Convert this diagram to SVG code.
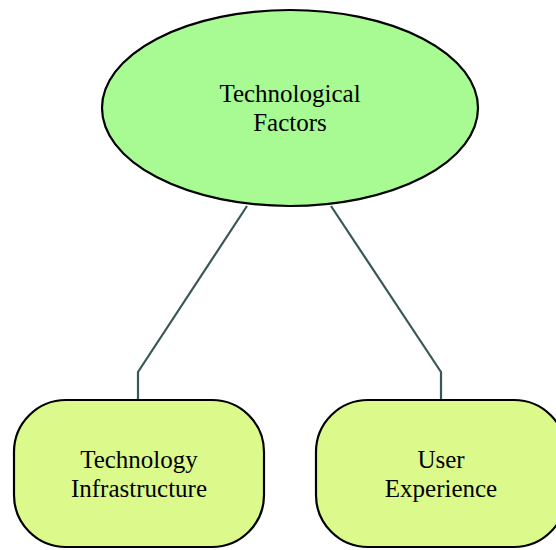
<svg xmlns="http://www.w3.org/2000/svg" width="556" height="550" viewBox="0 0 556 550">
<style>
.lbl{font-family:"Liberation Serif","Times New Roman",serif;font-size:25px;fill:#000;text-anchor:middle}
.edge{fill:none;stroke:#3a5757;stroke-width:2.2}
.leaf{fill:#dcfa8c;stroke:#000;stroke-width:2.2}
</style>
<rect width="556" height="550" fill="#fff"/>
<g id="connectors">
<path class="edge" d="M247,206 L138,372 L138,400"/>
<path class="edge" d="M331,206 L441,372 L441,400"/>
</g>
<g id="n-tech-factors">
<ellipse cx="290" cy="108" rx="188" ry="98" fill="#a8fa92" stroke="#000" stroke-width="2.2"/>
<text class="lbl" x="290" y="102">Technological</text>
<text class="lbl" x="290" y="131">Factors</text>
</g>
<g id="n-infrastructure">
<rect class="leaf" x="14" y="400" width="250" height="147" rx="52" ry="52"/>
<text class="lbl" x="139" y="468">Technology</text>
<text class="lbl" x="139" y="497">Infrastructure</text>
</g>
<g id="n-user-experience">
<rect class="leaf" x="316" y="400" width="250" height="147" rx="52" ry="52"/>
<text class="lbl" x="441" y="468">User</text>
<text class="lbl" x="441" y="497">Experience</text>
</g>
</svg>
